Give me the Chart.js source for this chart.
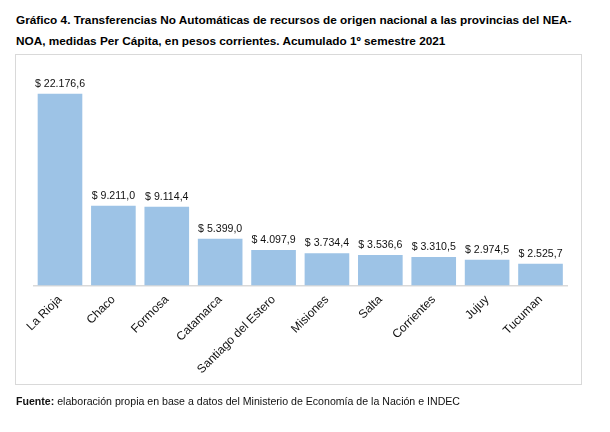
<!DOCTYPE html>
<html>
<head>
<meta charset="utf-8">
<script src="https://cdn.jsdelivr.net/npm/chart.js@4.4.1/dist/chart.umd.min.js"></script>
<style>
    body { margin: 0; width: 610px; height: 432px; background: #fff; position: relative; overflow: hidden;
           font-family: "Liberation Sans", Arial, sans-serif; color: #000; }
    #title { position: absolute; left: 16px; top: 10px; font-weight: bold; font-size: 11.8px;
             line-height: 20.7px; white-space: nowrap; }
    #box { position: absolute; left: 15px; top: 54px; width: 565px; height: 329px; border: 1px solid #d9d9d9; }
    #chart { position: absolute; left: 0; top: 0; }
    #footer { position: absolute; left: 16px; top: 395px; font-size: 10.6px; white-space: nowrap; color: #111; }
</style>
</head>
<body>
<div id="title">Gráfico 4. Transferencias No Automáticas de recursos de origen nacional a las provincias del NEA-<br>NOA, medidas Per Cápita, en pesos corrientes. Acumulado 1º semestre 2021</div>
<div id="box"></div>
<canvas id="chart" width="610" height="432"></canvas>
<div id="footer"><b>Fuente:</b> elaboración propia en base a datos del Ministerio de Economía de la Nación e INDEC</div>
<script>
const provincias = ['La Rioja', 'Chaco', 'Formosa', 'Catamarca', 'Santiago del Estero',
    'Misiones', 'Salta', 'Corrientes', 'Jujuy', 'Tucuman'];
const perCapita = [22176.6, 9211.0, 9114.4, 5399.0, 4097.9, 3734.4, 3536.6, 3310.5, 2974.5, 2525.7];

// formato 22.176,6
function formatPesos(v) {
    const parts = v.toFixed(1).split('.');
    const ent = parts[0].replace(/\B(?=(\d{3})+(?!\d))/g, '.');
    return '$ ' + ent + ',' + parts[1];
}

const valueLabels = {
    id: 'valueLabels',
    afterDatasetsDraw(chart) {
        const ctx = chart.ctx;
        const meta = chart.getDatasetMeta(0);
        ctx.save();
        ctx.font = '10.6px "Liberation Sans", Arial, sans-serif';
        ctx.fillStyle = '#111';
        ctx.textAlign = 'center';
        ctx.textBaseline = 'alphabetic';
        meta.data.forEach((bar, i) => {
            ctx.fillText(formatPesos(perCapita[i]), bar.x, bar.y - 7);
        });
        ctx.restore();
    }
};

const ctx = document.getElementById('chart');
let chart = new Chart(ctx, {
    type: 'bar',
    data: {
        labels: provincias,
        datasets: [{
            data: perCapita,
            backgroundColor: '#9dc3e6',
            borderWidth: 0,
            barPercentage: 0.836,
            categoryPercentage: 1
        }]
    },
    options: {
        responsive: false,
        animation: false,
        layout: { padding: { left: 33.3, right: 42.8, top: 78, bottom: 0 } },
        plugins: { legend: { display: false }, tooltip: { enabled: false } },
        scales: {
            y: { display: false, min: 0, max: 24000 },
            x: {
                grid: { display: false, drawTicks: false },
                border: { display: true, color: '#d9d9d9', width: 1.5 },
                ticks: {
                    color: '#111',
                    font: { family: '"Liberation Sans", Arial, sans-serif', size: 12 },
                    maxRotation: 45, minRotation: 45,
                    autoSkip: false,
                    padding: 7
                },
                afterFit: (scale) => { scale.height = 146.5; }
            }
        }
    },
    plugins: [valueLabels]
});
</script>
</body>
</html>
